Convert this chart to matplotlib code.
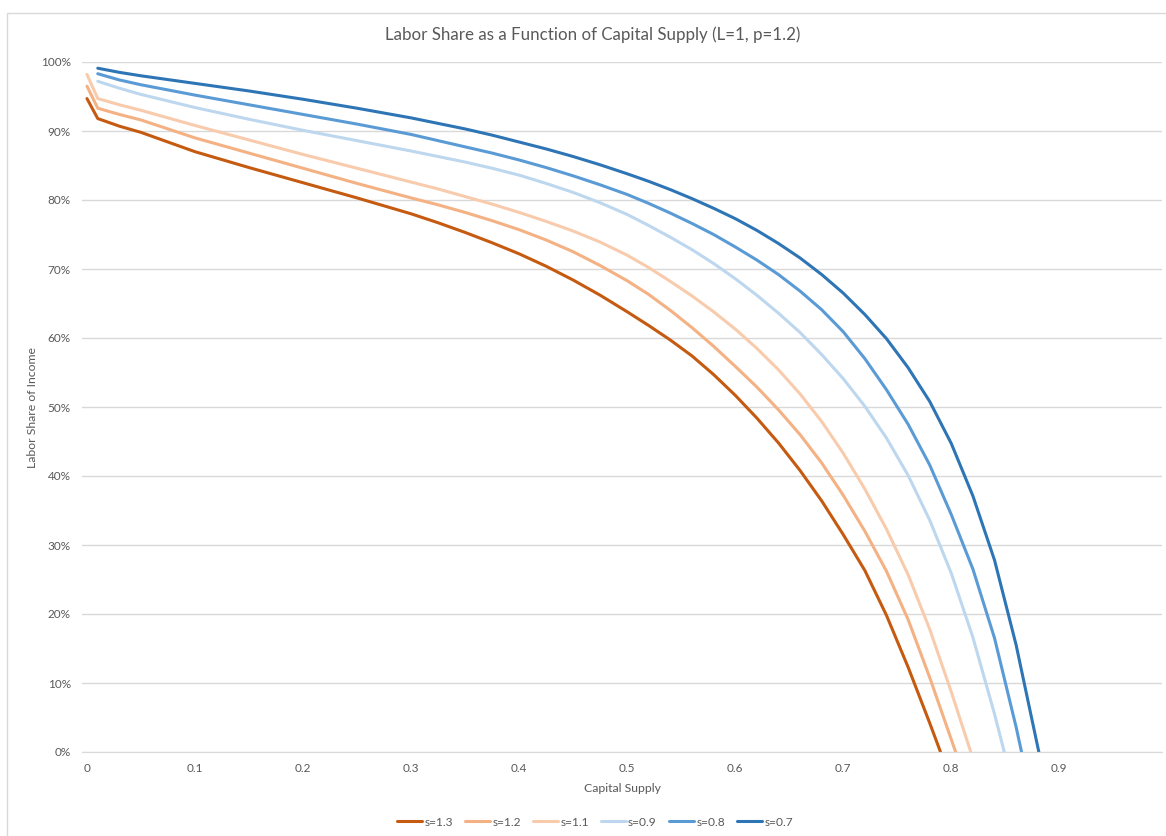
import numpy as np
import matplotlib.pyplot as plt
from matplotlib.patches import Rectangle
from matplotlib.ticker import PercentFormatter

# capital supply grid (shared by all series)
x_grid = [0.00, 0.01, 0.03, 0.05, 0.10, 0.15, 0.20, 0.25, 0.30, 0.325, 0.35,
          0.375, 0.40, 0.425, 0.45, 0.475, 0.50, 0.52, 0.54, 0.56, 0.58, 0.60,
          0.62, 0.64, 0.66, 0.68, 0.70, 0.72, 0.74, 0.76, 0.78, 0.80, 0.82,
          0.84, 0.86]

nan = np.nan
# labor share of income (%) per elasticity s; nan = no point
share_s13 = [94.7, 91.8, 90.7, 89.8, 87.0, 84.7, 82.5, 80.3, 78.0, 76.7, 75.3,
             73.8, 72.2, 70.4, 68.4, 66.2, 63.8, 61.8, 59.7, 57.4, 54.7, 51.7,
             48.4, 44.8, 40.8, 36.4, 31.5, 26.3, 19.8, 12.3, 4.2, nan, nan,
             nan, nan]
share_s12 = [96.5, 93.3, 92.4, 91.6, 89.0, 86.8, 84.6, 82.4, 80.3, 79.3, 78.2,
             77.0, 75.7, 74.2, 72.5, 70.5, 68.3, 66.3, 64.0, 61.5, 58.8, 55.9,
             52.9, 49.6, 46.0, 41.9, 37.2, 32.0, 26.2, 19.2, 10.8, 1.8, nan,
             nan, nan]
share_s11 = [98.2, 94.7, 93.8, 93.0, 90.8, 88.7, 86.6, 84.6, 82.6, 81.6, 80.5,
             79.4, 78.2, 76.9, 75.5, 73.9, 72.0, 70.2, 68.2, 66.1, 63.8, 61.3,
             58.5, 55.4, 51.9, 47.9, 43.3, 38.1, 32.3, 25.7, 17.8, 8.7, nan,
             nan, nan]
share_s09 = [nan, 97.2, 96.2, 95.3, 93.4, 91.7, 90.1, 88.6, 87.1, 86.3, 85.5,
             84.6, 83.6, 82.4, 81.1, 79.6, 77.9, 76.3, 74.6, 72.8, 70.8, 68.6,
             66.2, 63.6, 60.8, 57.6, 54.1, 50.1, 45.5, 40.1, 33.6, 25.9, 16.6,
             5.5, nan]
share_s08 = [nan, 98.3, 97.4, 96.7, 95.2, 93.8, 92.4, 91.0, 89.5, 88.6, 87.7,
             86.8, 85.8, 84.7, 83.5, 82.2, 80.8, 79.5, 78.1, 76.6, 75.0, 73.2,
             71.3, 69.2, 66.8, 64.1, 60.9, 57.0, 52.5, 47.5, 41.6, 34.4, 26.5,
             16.5, 3.6]
share_s07 = [nan, 99.1, 98.5, 98.0, 96.9, 95.8, 94.6, 93.3, 91.9, 91.1, 90.3,
             89.4, 88.4, 87.4, 86.3, 85.1, 83.8, 82.7, 81.5, 80.2, 78.8, 77.3,
             75.6, 73.7, 71.6, 69.2, 66.5, 63.4, 59.9, 55.7, 50.8, 44.7, 37.1,
             27.8, 15.5]
# capital supply where each curve reaches zero
zero_s13, zero_s12, zero_s11 = 0.790, 0.804, 0.818
zero_s09, zero_s08, zero_s07 = 0.849, 0.865, 0.881

labels = ["s=1.3", "s=1.2", "s=1.1", "s=0.9", "s=0.8", "s=0.7"]
series = [share_s13, share_s12, share_s11, share_s09, share_s08, share_s07]
zeros = [zero_s13, zero_s12, zero_s11, zero_s09, zero_s08, zero_s07]
colors = ["#C55A11", "#F4B183", "#F8CBAD", "#BDD7EE", "#5B9BD5", "#2E75B6"]

grey = "#595959"
grid_col = "#D9D9D9"
plt.rcParams['font.family'] = ["Lato", "DejaVu Sans"]

fig = plt.figure(figsize=(11.66, 8.36), dpi=100)
W, H = 1166, 836
ax = fig.add_axes([82 / W, 1 - 752 / H, (1162 - 82) / W, (752 - 62) / H])

# chart-area border (left and top edges)
fig.patches.append(Rectangle((7 / W, -0.1), 1.2, 1 - 13 / H + 0.1,
                             transform=fig.transFigure, fill=False,
                             edgecolor=grid_col, lw=1.0))

xg = np.array(x_grid)
for vals, xz, lab, col in zip(series, zeros, labels, colors):
    v = np.array(vals) / 100.0
    ok = ~np.isnan(v)
    xs = np.append(xg[ok], xz)
    ys = np.append(v[ok], 0.0)
    ax.plot(xs, ys, color=col, lw=2.2, label=lab, solid_capstyle='round',
            solid_joinstyle='round')

ax.set_xlim(-0.0046, 0.995)
ax.set_ylim(0, 1.0)
ax.set_xticks(np.arange(0, 0.91, 0.1))
ax.set_xticklabels(["0"] + [f"{t:.1f}" for t in np.arange(0.1, 0.91, 0.1)])
ax.set_yticks(np.arange(0, 1.01, 0.1))
ax.yaxis.set_major_formatter(PercentFormatter(1.0, decimals=0))
ax.tick_params(length=0, labelsize=8.5, labelcolor=grey)
ax.tick_params(axis='x', pad=8)
ax.tick_params(axis='y', pad=8)
ax.grid(axis='y', color=grid_col, lw=1.0)
ax.set_axisbelow(True)
for side in ["left", "right", "top"]:
    ax.spines[side].set_visible(False)
ax.spines["bottom"].set_color(grid_col)

fig.text(593 / W, 1 - 35 / H, "Labor Share as a Function of Capital Supply (L=1, p=1.2)",
         ha='center', va='center', fontsize=12.2, color=grey)
fig.text(622 / W, 1 - 788 / H, "Capital Supply", ha='center', va='center',
         fontsize=8.8, color=grey)
fig.text(33 / W, 1 - 407 / H, "Labor Share of Income", ha='center', va='center',
         rotation=90, fontsize=8.8, color=grey)

leg = fig.legend(loc='center', bbox_to_anchor=(595 / W, 1 - 822 / H), ncol=6,
                 frameon=False, fontsize=8.6, handlelength=2.1,
                 handletextpad=0.2, columnspacing=1.0)
for t in leg.get_texts():
    t.set_color(grey)

fig.savefig("out.png", dpi=100)
